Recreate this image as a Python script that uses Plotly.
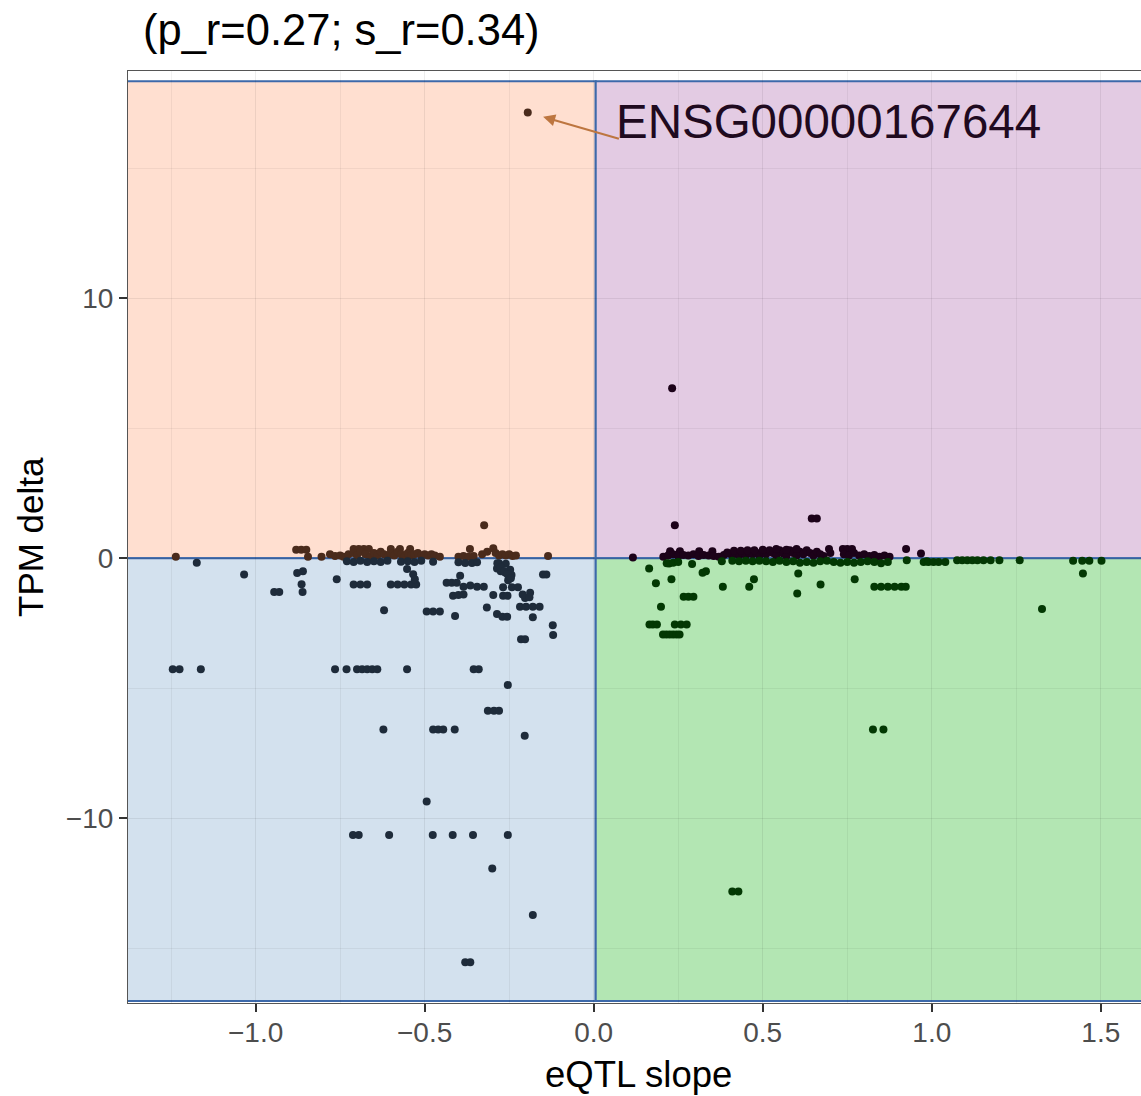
import plotly.graph_objects as go

# ---------------- data ----------------
# upper-left quadrant (negative slope, positive delta)
ul_x = [-0.195, -0.324, -1.236, -0.88, -0.865, -0.85, -0.845, -0.805, -0.78, -0.765,
        -0.71, -0.695, -0.68, -0.665, -0.60, -0.573, -0.543,
        -0.75, -0.74, -0.725, -0.71, -0.70, -0.69, -0.675, -0.66, -0.65, -0.64,
        -0.63, -0.62, -0.61, -0.60, -0.59, -0.58, -0.57, -0.56, -0.55, -0.54,
        -0.53, -0.52, -0.51, -0.50, -0.49, -0.48, -0.47, -0.455,
        -0.40, -0.385, -0.37, -0.366, -0.355, -0.33, -0.315, -0.297, -0.29, -0.28,
        -0.27, -0.26, -0.25, -0.24, -0.23, -0.135]
ul_y = [17.15, 1.27, 0.05, 0.32, 0.32, 0.32, 0.05, 0.05, 0.15, 0.08,
        0.35, 0.35, 0.35, 0.35, 0.35, 0.35, 0.35,
        0.10, 0.05, 0.15, 0.20, 0.10, 0.25, 0.15, 0.05, 0.20, 0.10,
        0.25, 0.15, 0.05, 0.20, 0.10, 0.25, 0.15, 0.05, 0.20, 0.10,
        0.15, 0.20, 0.10, 0.15, 0.10, 0.15, 0.10, 0.05,
        0.05, 0.08, 0.05, 0.35, 0.08, 0.15, 0.25, 0.38, 0.20, 0.10,
        0.15, 0.10, 0.15, 0.08, 0.10, 0.08]

# lower-left quadrant (negative slope, negative delta)
ll_x = [-1.174, -1.034, -0.945, -0.93, -0.877, -0.86, -0.864, -0.861, -0.760,
        -0.71, -0.69, -0.67, -0.60, -0.58, -0.56, -0.54, -0.525,
        -0.552, -0.534, -0.529, -0.620, -0.494, -0.475, -0.455, -0.410,
        -0.435, -0.42, -0.405, -0.395, -0.416, -0.40, -0.385,
        -0.385, -0.365, -0.345, -0.325, -0.316, -0.297,
        -0.286, -0.27, -0.256, -0.286, -0.275, -0.262, -0.247,
        -0.253, -0.243, -0.268, -0.242, -0.268, -0.255,
        -0.218, -0.20, -0.18, -0.16, -0.203, -0.188, -0.224, -0.180,
        -0.150, -0.140, -0.121, -0.120, -0.215, -0.203,
        -1.245, -1.225, -1.162, -0.765, -0.731, -0.70, -0.685, -0.67, -0.655, -0.64,
        -0.552, -0.355, -0.34,
        -0.254, -0.313, -0.295, -0.28,
        -0.622, -0.475, -0.46, -0.445, -0.411, -0.204, -0.494,
        -0.712, -0.695, -0.605, -0.476, -0.417, -0.357, -0.254,
        -0.30, -0.180, -0.38, -0.365,
        -0.73, -0.71, -0.69, -0.67, -0.65, -0.63, -0.61, -0.57, -0.55, -0.53, -0.51,
        -0.475, -0.40, -0.38, -0.36, -0.345, -0.28, -0.26,
        -0.285, -0.275, -0.265, -0.255, -0.245, -0.21, -0.19]
ll_y = [-0.18, -0.63, -1.30, -1.30, -0.57, -0.50, -1.00, -1.30, -0.81,
        -1.01, -1.01, -1.01, -1.01, -1.01, -1.01, -1.01, -1.01,
        -0.42, -0.62, -0.81, -2.00, -2.05, -2.05, -2.05, -2.23,
        -0.95, -0.95, -0.95, -0.68, -1.45, -1.42, -1.40,
        -1.10, -1.05, -1.10, -1.10, -1.90, -1.42,
        -2.15, -2.25, -2.25, -0.40, -0.50, -0.55, -0.45,
        -0.85, -0.65, -1.12, -1.12, -1.45, -1.45,
        -1.87, -1.87, -1.87, -1.87, -1.53, -1.33, -1.12, -2.27,
        -0.63, -0.63, -2.58, -2.96, -3.12, -3.12,
        -4.27, -4.27, -4.27, -4.27, -4.27, -4.27, -4.27, -4.27, -4.27, -4.27,
        -4.27, -4.27, -4.27,
        -4.88, -5.87, -5.87, -5.87,
        -6.59, -6.59, -6.59, -6.59, -6.59, -6.83, -9.36,
        -10.65, -10.65, -10.65, -10.65, -10.65, -10.65, -10.65,
        -11.94, -13.73, -15.55, -15.55,
        -0.12, -0.15, -0.10, -0.15, -0.12, -0.15, -0.10, -0.14, -0.12, -0.15, -0.10,
        -0.14, -0.16, -0.19, -0.19, -0.16, -0.20, -0.22,
        -0.20, -0.35, -0.50, -0.62, -0.77, -1.40, -1.50]

# upper-right quadrant (positive slope, positive delta)
ur_x = [0.232, 0.240, 0.645, 0.66, 0.206, 0.226, 0.255, 0.312, 0.351,
        0.22, 0.235, 0.25, 0.265, 0.28, 0.295, 0.31, 0.325, 0.34, 0.355, 0.37,
        0.385, 0.40, 0.41, 0.42, 0.43, 0.44, 0.45, 0.46, 0.47, 0.48, 0.49,
        0.50, 0.51, 0.52, 0.53, 0.54, 0.55, 0.56, 0.57, 0.58, 0.59, 0.60,
        0.61, 0.62, 0.63, 0.64, 0.65, 0.66, 0.67, 0.68, 0.696, 0.70,
        0.737, 0.75, 0.764, 0.74, 0.755, 0.77, 0.785, 0.80, 0.815, 0.83,
        0.845, 0.86, 0.875, 0.924, 0.968, 0.395, 0.415, 0.435, 0.455, 0.475,
        0.50, 0.54, 0.57, 0.60, 0.116]
ur_y = [6.54, 1.27, 1.53, 1.53, 0.05, 0.27, 0.27, 0.27, 0.27,
        0.10, 0.15, 0.08, 0.12, 0.10, 0.15, 0.08, 0.12, 0.10, 0.08, 0.05,
        0.12, 0.18, 0.10, 0.20, 0.12, 0.20, 0.10, 0.20, 0.15, 0.22, 0.10,
        0.25, 0.15, 0.30, 0.20, 0.10, 0.30, 0.18, 0.08, 0.30, 0.20, 0.10,
        0.25, 0.15, 0.30, 0.20, 0.10, 0.25, 0.15, 0.08, 0.35, 0.20,
        0.35, 0.35, 0.35, 0.15, 0.10, 0.20, 0.10, 0.15, 0.08, 0.12,
        0.05, 0.10, 0.05, 0.35, 0.18, 0.22, 0.28, 0.28, 0.30, 0.30,
        0.32, 0.35, 0.32, 0.35, 0.02]

# lower-right quadrant (positive slope, negative delta)
lr_x = [0.164, 0.184, 0.223, 0.230, 0.199, 0.165, 0.175, 0.187,
        0.205, 0.215, 0.225, 0.235, 0.245, 0.254, 0.24, 0.258, 0.275,
        0.266, 0.28, 0.295, 0.291, 0.322, 0.332, 0.382, 0.460, 0.474,
        0.605, 0.602, 0.671, 0.772, 0.83, 0.85, 0.87, 0.89, 0.91, 0.923,
        1.326, 1.447, 0.826, 0.857, 0.41, 0.428,
        0.216, 0.235, 0.25, 0.379, 0.41, 0.43, 0.45, 0.47, 0.49, 0.51, 0.53,
        0.55, 0.57, 0.59, 0.61, 0.63, 0.65, 0.67, 0.69, 0.71, 0.73, 0.75,
        0.77, 0.79, 0.81, 0.83, 0.85, 0.87,
        0.926, 0.985, 0.976, 0.99, 1.005, 1.02, 1.04,
        1.075, 1.09, 1.105, 1.12, 1.135, 1.153, 1.174, 1.20, 1.26,
        1.418, 1.445, 1.466, 1.502]
lr_y = [-0.40, -0.97, -0.21, -0.81, -1.87, -2.55, -2.55, -2.55,
        -2.94, -2.94, -2.94, -2.94, -2.94, -2.94, -2.55, -2.55, -2.55,
        -1.49, -1.49, -1.49, -0.23, -0.56, -0.50, -1.10, -1.10, -0.81,
        -0.59, -1.36, -1.01, -0.81, -1.10, -1.10, -1.10, -1.10, -1.10, -1.10,
        -1.96, -0.59, -6.59, -6.59, -12.83, -12.83,
        -0.20, -0.18, -0.15, -0.12, -0.10, -0.12, -0.10, -0.12, -0.10, -0.12, -0.15,
        -0.10, -0.15, -0.12, -0.18, -0.15, -0.18, -0.12, -0.10, -0.15, -0.18, -0.15,
        -0.18, -0.15, -0.12, -0.15, -0.20, -0.15,
        -0.08, -0.12, -0.15, -0.15, -0.15, -0.15, -0.15,
        -0.08, -0.08, -0.08, -0.08, -0.08, -0.08, -0.08, -0.08, -0.08,
        -0.10, -0.10, -0.10, -0.10]

title_text = "(p_r=0.27; s_r=0.34)"
label_gene = "ENSG00000167644"
label_x, label_y = -0.195, 17.15
x_title = "eQTL slope"
y_title = "TPM delta"

# ---------------- figure ----------------
W, H = 1141, 1096
ML, MR, MT, MB = 128, 0, 71, 93
FONT = "Liberation Sans, Arial, Helvetica, sans-serif"

fig = go.Figure()
for xs, ys, col in [(ul_x, ul_y, "#4a2b1c"), (ll_x, ll_y, "#1e2b3a"),
                    (ur_x, ur_y, "#1c0219"), (lr_x, lr_y, "#033803")]:
    fig.add_trace(go.Scatter(x=xs, y=ys, mode="markers",
                             marker=dict(size=8, color=col, line=dict(width=0)),
                             showlegend=False, hoverinfo="x+y"))

border = dict(color="#3d69aa", width=2)
quads = [(-1.40, 0.006, 0, 18.35, "#FFDFD0"),
         (0.006, 1.75, 0, 18.35, "#E3CBE3"),
         (-1.40, 0.006, -17.04, 0, "#D3E1EE"),
         (0.006, 1.75, -17.04, 0, "#B3E6B3")]
for x0, x1, y0, y1, fc in quads:
    fig.add_shape(type="rect", xref="x", yref="y", x0=x0, x1=x1, y0=y0, y1=y1,
                  fillcolor=fc, line=border, layer="below")

# arrow (repel segment) and label
fig.add_annotation(x=label_x, y=label_y, ax=0.079, ay=16.12, xref="x", yref="y",
                   axref="x", ayref="y", text="", showarrow=True,
                   arrowhead=2, arrowsize=1.2, arrowwidth=2, arrowcolor="#bd7640",
                   standoff=16)
fig.add_annotation(x=0.0615, y=16.79, xref="x", yref="y", text=label_gene,
                   showarrow=False, xanchor="left", yanchor="middle",
                   font=dict(family=FONT, size=47.5, color="#1f0a1f"))

pw = W - ML - MR
ph = H - MT - MB
def px_x(p):
    return (p - ML) / pw
def px_y(p):
    return (H - MB - p) / ph

fig.add_annotation(x=px_x(141), y=px_y(30), xref="paper", yref="paper",
                   text=title_text, showarrow=False, xanchor="left", yanchor="middle",
                   font=dict(family=FONT, size=43.5, color="#000000"))
fig.add_annotation(x=px_x(638), y=px_y(1074), xref="paper", yref="paper",
                   text=x_title, showarrow=False, xanchor="center", yanchor="middle",
                   font=dict(family=FONT, size=36.5, color="#000000"))
fig.add_annotation(x=px_x(30), y=px_y(537), xref="paper", yref="paper",
                   text=y_title, showarrow=False, textangle=-90,
                   xanchor="center", yanchor="middle",
                   font=dict(family=FONT, size=35, color="#000000"))

grid_major = "rgba(0,0,0,0.07)"
grid_minor = "rgba(0,0,0,0.05)"
fig.update_xaxes(range=[-1.3774, 1.6188], tickmode="linear", tick0=0, dtick=0.5,
                 tickformat=".1f", ticks="outside", ticklen=8, tickwidth=1.5,
                 tickcolor="#333333", showline=True, linecolor="#555555", linewidth=1.2,
                 mirror=True, showgrid=True, gridcolor=grid_major, gridwidth=1.4,
                 zeroline=False, ticklabelstandoff=-4,
                 minor=dict(dtick=0.25, showgrid=True, gridcolor=grid_minor, gridwidth=1),
                 tickfont=dict(family=FONT, size=28, color="#4d4d4d"))
fig.update_yaxes(range=[-17.115, 18.742], tickmode="linear", tick0=0, dtick=10,
                 ticks="outside", ticklen=8, tickwidth=1.5, tickcolor="#333333",
                 showline=True, linecolor="#555555", linewidth=1.2, mirror=False,
                 showgrid=True, gridcolor=grid_major, gridwidth=1.4, zeroline=False,
                 minor=dict(dtick=5, showgrid=True, gridcolor=grid_minor, gridwidth=1),
                 tickfont=dict(family=FONT, size=28, color="#4d4d4d"))

fig.update_layout(width=W, height=H, margin=dict(l=ML, r=MR, t=MT, b=MB),
                  plot_bgcolor="white", paper_bgcolor="white", showlegend=False)

fig.write_html("out.html")
